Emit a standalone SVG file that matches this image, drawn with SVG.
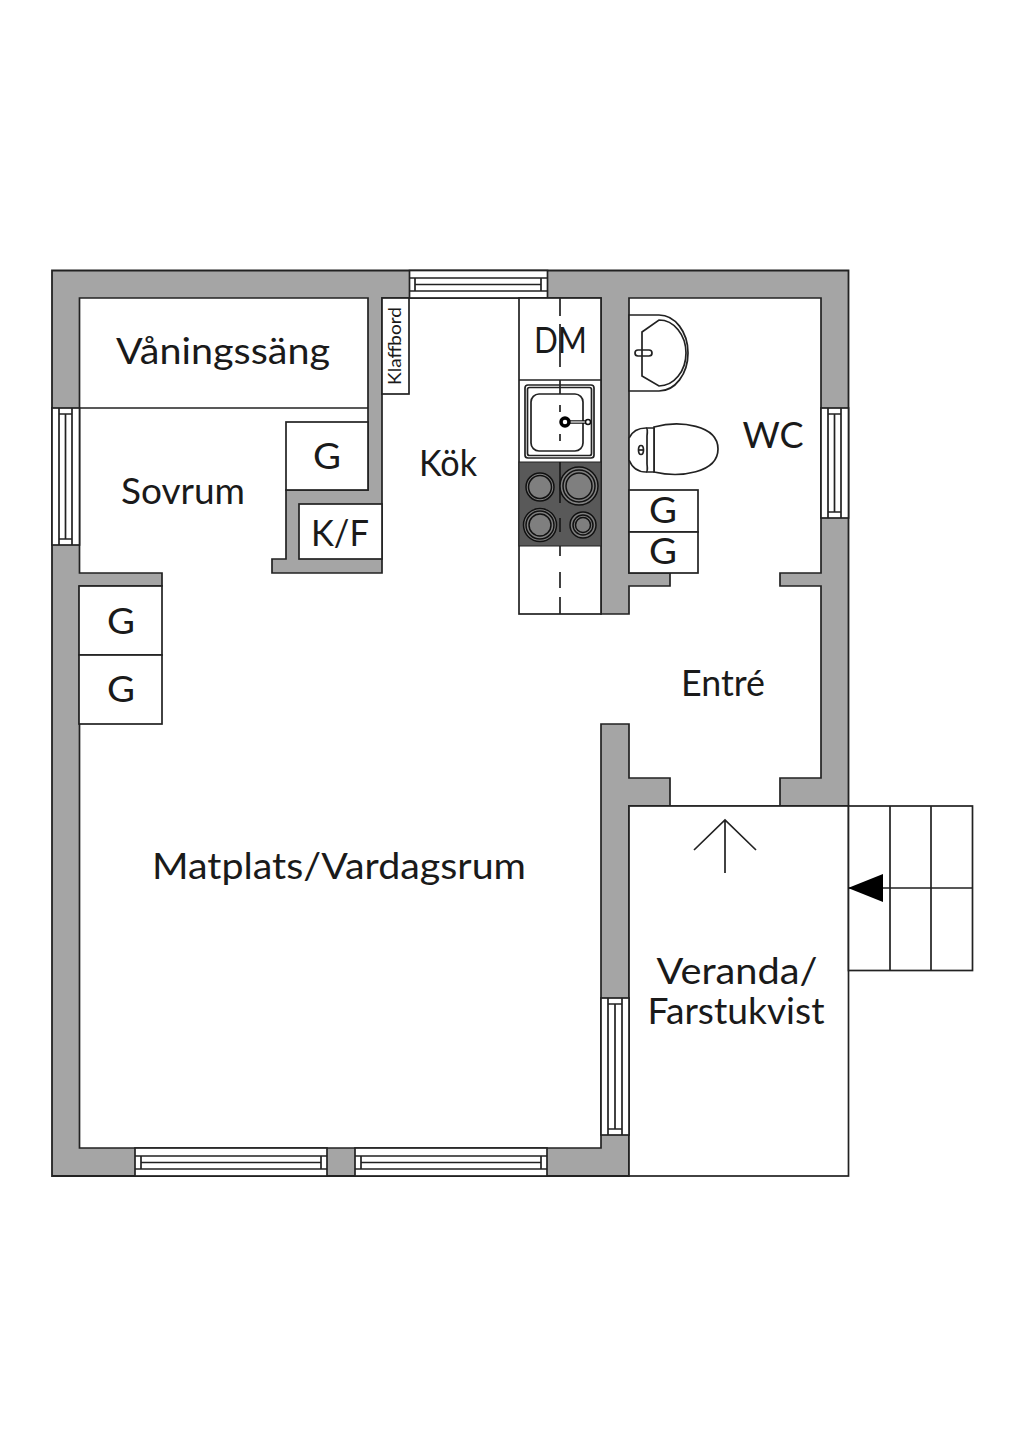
<svg xmlns="http://www.w3.org/2000/svg" width="1024" height="1448" viewBox="0 0 1024 1448">
<style>
.w{fill:#a5a5a5;stroke:#222;stroke-width:1.8}
.l{fill:none;stroke:#222;stroke-width:1.7}
.b{fill:#fff;stroke:#222;stroke-width:1.7}
.t{font-family:"Lato","Open Sans",sans-serif;font-size:36px;font-weight:400;fill:#1a1a1a;text-anchor:middle}
.g{fill:#7f7f7f;stroke:#111;stroke-width:1.5}
.r{fill:none;stroke:#111;stroke-width:1.5}
</style>
<rect width="1024" height="1448" fill="#fff"/>
<g id="walls">
<path class="w" d="M52,270.500H848.500V806H629V1176H52Z"/>
<path class="b" d="M79.500,298H368V490H286V559H272V573H382V298H601V614H629V586H670V573H629V298H821V573H780V586H821V778H780V806H670V778H629V724H601V1148H79.500V586H162V573H79.500Z"/>
</g>
<g id="veranda">
<rect class="b" x="629" y="806" width="219.500" height="370"/>
<path class="l" d="M725,873V820M694,850L725,820L756,850"/>
<text class="t" x="737" y="984" textLength="161" lengthAdjust="spacingAndGlyphs">Veranda/</text>
<text class="t" x="736" y="1024" textLength="177" lengthAdjust="spacingAndGlyphs">Farstukvist</text>
</g>
<g id="stairs">
<rect class="b" x="848.500" y="806" width="124" height="164.500"/>
<path class="l" d="M890,806V970M931,806V970M848,888H972"/>
<path d="M848,888L883,874V902Z" fill="#000"/>
</g>
<g id="window-top">
<rect class="b" x="409.500" y="270.500" width="138" height="27.500"/>
<path class="l" d="M409.500,278H547M409.500,291H547M415,278V291M541,278V291M415,284.500H541"/>
</g>
<g id="window-left">
<rect class="b" x="52" y="408" width="27.500" height="137"/>
<path class="l" d="M59,408V545M72,408V545M59,414H72M59,539H72M65.500,414V539"/>
</g>
<g id="window-right">
<rect class="b" x="821" y="408" width="27.500" height="110"/>
<path class="l" d="M828,408V518M841,408V518M828,414H841M828,512H841M834.500,414V512"/>
</g>
<g id="window-veranda">
<rect class="b" x="601" y="998" width="28" height="137"/>
<path class="l" d="M608,998V1135M622,998V1135M608,1004H622M608,1129H622M615,1004V1129"/>
</g>
<g id="window-bottom-1">
<rect class="b" x="135" y="1148" width="192" height="28"/>
<path class="l" d="M135,1156H327M135,1169H327M141,1156V1169M321,1156V1169M141,1162.500H321"/>
</g>
<g id="window-bottom-2">
<rect class="b" x="355" y="1148" width="192" height="28"/>
<path class="l" d="M355,1156H547M355,1169H547M361,1156V1169M541,1156V1169M361,1162.500H541"/>
</g>
<g id="bed">
<path class="l" d="M79,408H368"/>
<text class="t" x="223" y="364" textLength="214" lengthAdjust="spacingAndGlyphs">Våningssäng</text>
</g>
<g id="sovrum"><text class="t" x="183" y="504" textLength="124" lengthAdjust="spacingAndGlyphs">Sovrum</text></g>
<g id="g-sovrum"><rect class="b" x="286" y="422" width="82" height="68"/><text class="t" x="327" y="469" textLength="28" lengthAdjust="spacingAndGlyphs">G</text></g>
<g id="kf"><rect class="b" x="299" y="504" width="83" height="55"/><text class="t" x="340" y="546" textLength="58" lengthAdjust="spacingAndGlyphs">K/F</text></g>
<g id="g-matplats">
<rect class="b" x="79" y="586" width="83" height="69"/><text class="t" x="121" y="634" textLength="28" lengthAdjust="spacingAndGlyphs">G</text>
<rect class="b" x="79" y="655" width="83" height="69"/><text class="t" x="121" y="702" textLength="28" lengthAdjust="spacingAndGlyphs">G</text>
</g>
<g id="klaffbord">
<rect class="b" x="382" y="298" width="27" height="96"/>
<text class="t" transform="translate(401,346) rotate(-90)" style="font-size:17px" textLength="78" lengthAdjust="spacingAndGlyphs">Klaffbord</text>
</g>
<g id="kok"><text class="t" x="448" y="476" textLength="58" lengthAdjust="spacingAndGlyphs">Kök</text></g>
<g id="counter">
<rect class="b" x="519" y="298" width="82" height="316"/>
<path class="l" d="M519,380H601"/>
<rect x="519" y="462" width="82" height="84" fill="#595959" stroke="#222"/>
<path class="l" d="M560,298V316M560,324V367M560,546V556M560,572V588M560,597V614"/>
<text class="t" x="560.500" y="353" textLength="53" lengthAdjust="spacingAndGlyphs">DM</text>
</g>
<g id="sink">
<rect class="b" x="525" y="385" width="69" height="73" rx="3"/>
<rect class="l" x="527.500" y="387.500" width="64" height="68" rx="2"/>
<rect class="l" x="531" y="394" width="52" height="57" rx="8"/>
<path class="l" d="M560,380V394M560,405V412M560,434V441"/>
<path d="M565,422H589" stroke="#111" stroke-width="3.500" fill="none"/>
<path d="M568,422H589" stroke="#fff" stroke-width="1.200" fill="none"/>
<circle cx="565" cy="422" r="4" fill="#fff" stroke="#000" stroke-width="3.500"/>
<circle cx="588" cy="422" r="2.500" fill="#fff" stroke="#111" stroke-width="1.500"/>
</g>
<g id="hob">
<path d="M560,462V503M560,518V532" stroke="#111" stroke-width="1.500"/>
<circle class="g" cx="540" cy="487" r="14"/><circle class="r" cx="540" cy="487" r="11.500"/>
<circle class="g" cx="579" cy="486" r="19"/><circle class="r" cx="579" cy="486" r="16"/><circle class="r" cx="579" cy="486" r="13"/>
<circle class="g" cx="540" cy="525" r="16.500"/><circle class="r" cx="540" cy="525" r="14"/><circle class="r" cx="540" cy="525" r="11"/>
<circle class="g" cx="583" cy="525" r="13"/><circle class="r" cx="583" cy="525" r="10"/><circle class="r" cx="583" cy="525" r="7.500"/>
</g>
<g id="washbasin">
<path class="b" d="M629,315H659A29,38 0 0 1 659,391H629Z"/>
<path class="l" d="M642,332L659,320A27,33 0 0 1 659,386L642,376Z"/>
<rect class="l" x="635" y="350" width="17" height="6" rx="3"/>
</g>
<g id="toilet">
<path class="b" d="M654,427C680,420 718,425 718,449C718,473 680,478 654,472Z"/>
<path class="b" d="M629,438Q634,428 646,428H654V472H646Q634,472 629,460Z"/>
<path class="l" d="M646,428Q648,428 647,436V464Q648,472 646,472"/>
<ellipse class="l" cx="641" cy="450" rx="2.500" ry="4.500"/>
<path class="l" d="M638.500,450H643.500"/>
</g>
<g id="wc"><text class="t" x="773" y="448" textLength="61" lengthAdjust="spacingAndGlyphs">WC</text></g>
<g id="g-wc">
<rect class="b" x="629" y="490" width="69" height="42"/><text class="t" x="663" y="523" textLength="28" lengthAdjust="spacingAndGlyphs">G</text>
<rect class="b" x="629" y="532" width="69" height="41"/><text class="t" x="663" y="564" textLength="28" lengthAdjust="spacingAndGlyphs">G</text>
</g>
<g id="entre"><text class="t" x="723" y="696" textLength="84" lengthAdjust="spacingAndGlyphs">Entré</text></g>
<g id="matplats"><text class="t" x="339" y="879" textLength="374" lengthAdjust="spacingAndGlyphs">Matplats/Vardagsrum</text></g>
</svg>
